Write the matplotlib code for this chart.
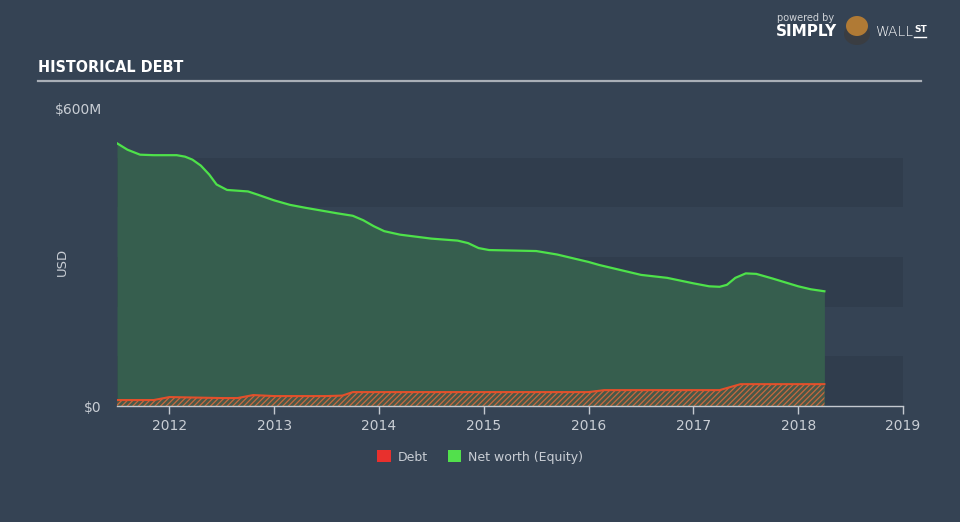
import matplotlib
matplotlib.use("Agg")
import matplotlib.pyplot as plt
from matplotlib.patches import Patch, Ellipse
from matplotlib.lines import Line2D
from matplotlib import font_manager as fm

# ---- data ----
equity_x = [2011.5, 2011.6, 2011.72, 2011.85, 2012.07, 2012.15, 2012.22, 2012.3, 2012.38, 2012.45,
            2012.55, 2012.75, 2012.85, 2013.0, 2013.15, 2013.3, 2013.6, 2013.75, 2013.85, 2013.95,
            2014.05, 2014.2, 2014.5, 2014.75, 2014.85, 2014.95, 2015.05, 2015.5, 2015.7, 2016.0,
            2016.1, 2016.5, 2016.75, 2017.0, 2017.15, 2017.25, 2017.32, 2017.4, 2017.5, 2017.6,
            2017.75, 2018.0, 2018.12, 2018.25]
equity_v = [529, 516, 506, 505, 505, 502, 496, 484, 466, 446,
            435, 432, 425, 414, 405, 399, 388, 383, 374, 362,
            352, 345, 337, 333, 328, 318, 314, 312, 305, 290,
            284, 264, 258, 247, 241, 240, 244, 258, 267, 266,
            257, 241, 235, 231]

debt_x = [2011.5, 2011.85, 2012.0, 2012.5, 2012.65, 2012.8, 2013.0, 2013.5, 2013.65, 2013.75,
          2016.0, 2016.15, 2017.25, 2017.45, 2018.25]
debt_v = [12, 12, 18, 16, 16, 22, 20, 20, 21, 28,
          28, 32, 32, 44, 44]

year_ticks = [2012, 2013, 2014, 2015, 2016, 2017, 2018, 2019]
y_ticks = [0, 600]
y_labels = ["$0", "$600M"]
bands = [(0, 100), (200, 300), (400, 500)]
legend_labels = ["Debt", "Net worth (Equity)"]

BG = "#354354"
BAND = "#303d4d"
TXT = "#c9ced5"
GREEN_LINE = "#4ee24a"
GREEN_FILL = "#365e4e"
RED_LINE = "#e3502b"

fig = plt.figure(figsize=(9.6, 5.22), dpi=100, facecolor=BG)
ax = fig.add_axes([117/960, 1-406/522, 786/960, 298/522])
ax.set_facecolor(BG)
ax.set_xlim(2011.5, 2019.0)
ax.set_ylim(0, 600)

for lo, hi in bands:
    ax.axhspan(lo, hi, color=BAND, zorder=0, lw=0)

ax.fill_between(equity_x, 0, equity_v, color=GREEN_FILL, lw=0, zorder=1)
ax.plot(equity_x, equity_v, color=GREEN_LINE, lw=1.6, zorder=3, solid_joinstyle="round")

plt.rcParams['hatch.color'] = "#c8683e"
plt.rcParams['hatch.linewidth'] = 0.9
ax.fill_between(debt_x, 0, debt_v, facecolor="#485848", edgecolor="#c8683e", hatch="//////", lw=0, zorder=2)
ax.plot(debt_x, debt_v, color=RED_LINE, lw=1.5, zorder=3)

for s in ["top", "right", "left"]:
    ax.spines[s].set_visible(False)
ax.spines["bottom"].set_color("#c4c9d0")
ax.spines["bottom"].set_linewidth(1.0)

ax.set_xticks(year_ticks)
ax.set_xticklabels([str(y) for y in year_ticks])
ax.tick_params(axis="x", colors="#c4c9d0", length=6, width=1.0, labelsize=10, labelcolor=TXT, pad=3)
ax.set_yticks(y_ticks)
ax.set_yticklabels(y_labels)
ax.tick_params(axis="y", length=0, labelsize=10, labelcolor=TXT, pad=11)

fig.text(62/960, 1-262/522, "USD", rotation=90, color=TXT, fontsize=9.5, ha="center", va="center")

# title (condensed if available)
fams = {f.name for f in fm.fontManager.ttflist}
cond = [f for f in fm.fontManager.ttflist if f.name == "DejaVu Sans" and f.stretch in ("condensed", 300)]
if "Liberation Sans Narrow" in fams:
    tkw = dict(family=["Liberation Sans Narrow", "DejaVu Sans"], fontsize=13)
elif cond:
    tkw = dict(family=["DejaVu Sans"], fontstretch="condensed", fontsize=11.5)
else:
    tkw = dict(family=["DejaVu Sans"], fontsize=10)
fig.text(38/960, 1-68/522, "HISTORICAL DEBT", color="white", fontweight="bold",
         ha="left", va="center", **tkw)
fig.add_artist(Line2D([38/960, 921/960], [1-81/522, 1-81/522], color="#a9afb7", lw=1.6))

# logo
fig.text(777/960, 1-18/522, "powered by", color="#cfd3d8", fontsize=7, ha="left", va="center")
fig.text(776/960, 1-32/522, "SIMPLY", color="white", fontsize=11, fontweight="bold", ha="left", va="center")
fig.text(875/960, 1-32/522, "WALL", color="white", fontsize=10, fontweight="light", ha="left", va="center")
fig.text(914/960, 1-29/522, "ST", color="white", fontsize=6.5, fontweight="bold", ha="left", va="center")
fig.add_artist(Line2D([914/960, 926/960], [1-37/522, 1-37/522], color="white", lw=1))
fig.add_artist(Ellipse((857/960, 1-34/522), 26/960, 22/522, color="#3a3d42", lw=0))
fig.add_artist(Ellipse((857/960, 1-26/522), 22/960, 20/522, color="#b07a35", lw=0))

handles = [Patch(facecolor="#e8302d", edgecolor="none"), Patch(facecolor="#52e04c", edgecolor="none")]
leg = fig.legend(handles, legend_labels, loc="center", bbox_to_anchor=(0.5, 1-457/522), ncol=2,
                 frameon=False, fontsize=9, labelcolor=TXT, handlelength=1.1, handleheight=1.1,
                 handletextpad=0.5, columnspacing=1.6)

fig.savefig("out.png", dpi=100, facecolor=BG)
